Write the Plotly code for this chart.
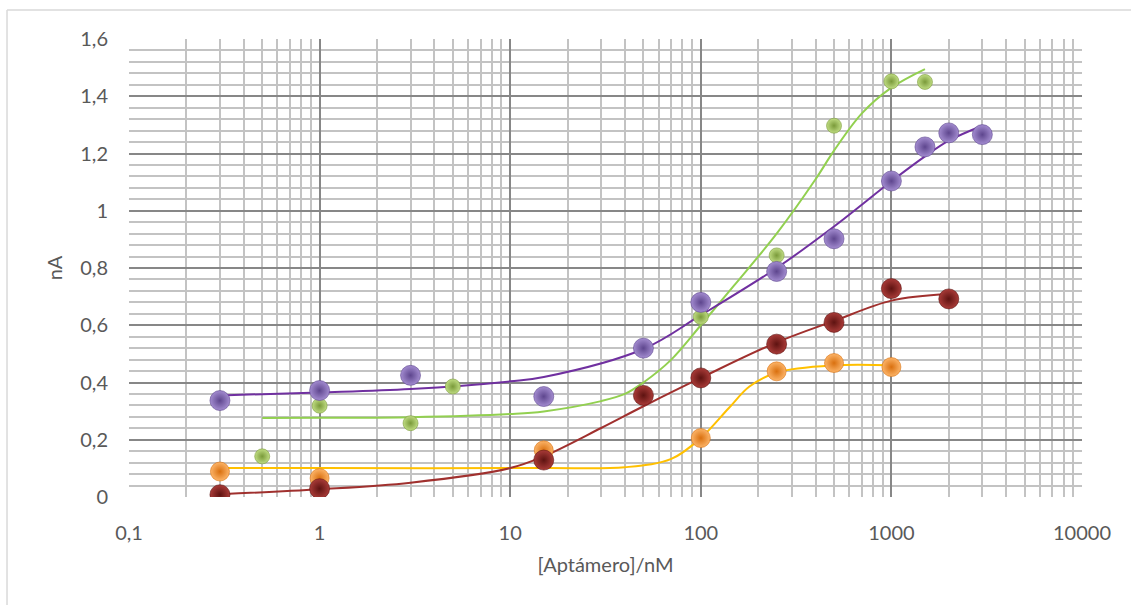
import plotly.graph_objects as go

# ---- measured data (markers) ----
purple_x = [0.3, 1, 3, 15, 50, 100, 250, 500, 1000, 1500, 2000, 3000]
purple_y = [0.337, 0.372, 0.425, 0.351, 0.520, 0.680, 0.788, 0.902, 1.104, 1.223, 1.272, 1.266]

green_x = [0.5, 1, 3, 5, 100, 250, 500, 1000, 1500]
green_y = [0.142, 0.319, 0.258, 0.386, 0.629, 0.844, 1.297, 1.452, 1.450]

red_x = [0.3, 1, 15, 50, 100, 250, 500, 1000, 2000]
red_y = [0.008, 0.029, 0.129, 0.355, 0.416, 0.534, 0.610, 0.728, 0.692]

orange_x = [0.3, 1, 15, 100, 250, 500, 1000]
orange_y = [0.089, 0.066, 0.163, 0.206, 0.439, 0.468, 0.454]

# ---- fitted curves ----
purple_fit_x = [0.3, 1, 3, 10, 15, 50, 100, 250, 500, 1000, 1500, 2000, 3000]
purple_fit_y = [0.355, 0.365, 0.377, 0.404, 0.419, 0.517, 0.635, 0.800, 0.945, 1.103, 1.190, 1.245, 1.297]

green_fit_x = [0.5, 1, 3, 10, 15, 30, 40, 50, 70, 100, 150, 250, 400, 500, 700, 1000, 1500]
green_fit_y = [0.276, 0.277, 0.279, 0.290, 0.299, 0.335, 0.360, 0.400, 0.480, 0.600, 0.740, 0.920, 1.110, 1.210, 1.340, 1.430, 1.495]

red_fit_x = [0.3, 1, 3, 10, 15, 30, 50, 100, 250, 500, 1000, 2000]
red_fit_y = [0.010, 0.027, 0.050, 0.101, 0.142, 0.241, 0.317, 0.416, 0.540, 0.615, 0.686, 0.709]

orange_fit_x = [0.3, 1, 15, 40, 70, 100, 140, 180, 250, 500, 1000]
orange_fit_y = [0.101, 0.101, 0.101, 0.104, 0.133, 0.206, 0.310, 0.386, 0.435, 0.460, 0.460]

x_tickvals = [0.1, 1, 10, 100, 1000, 10000]
x_ticktext = ["0,1", "1", "10", "100", "1000", "10000"]
y_tickvals = [0, 0.2, 0.4, 0.6, 0.8, 1.0, 1.2, 1.4, 1.6]
y_ticktext = ["0", "0,2", "0,4", "0,6", "0,8", "1", "1,2", "1,4", "1,6"]

fig = go.Figure()

lines = [
    (green_fit_x, green_fit_y, "#92D050"),
    (orange_fit_x, orange_fit_y, "#FFC000"),
    (red_fit_x, red_fit_y, "#A0302E"),
    (purple_fit_x, purple_fit_y, "#7030A0"),
]
for xs, ys, c in lines:
    fig.add_trace(go.Scatter(x=xs, y=ys, mode="lines",
                             line=dict(color=c, width=2, shape="spline", smoothing=1),
                             showlegend=False, hoverinfo="skip"))

markers = [
    (green_x, green_y, "#BFDC82", "#7A9A3A", 15),
    (orange_x, orange_y, "#FCB468", "#D9700F", 19),
    (red_x, red_y, "#A93B38", "#5E1311", 20),
    (purple_x, purple_y, "#A38CD0", "#5E468E", 20),
]
for xs, ys, c, g, s in markers:
    fig.add_trace(go.Scatter(x=xs, y=ys, mode="markers",
                             marker=dict(size=s, color=c,
                                         gradient=dict(type="radial", color=g),
                                         line=dict(width=0.6, color=g)),
                             showlegend=False))

font_family = "Lato, 'Open Sans', sans-serif"
grid_major = "#878787"
grid_minor = "#C3C3C3"

fig.update_layout(
    width=1131, height=605,
    margin=dict(l=129, r=49, t=39, b=108),
    paper_bgcolor="white", plot_bgcolor="white",
    font=dict(family=font_family, size=20, color="#595959"),
    xaxis=dict(
        type="log", range=[-1, 4],
        tickvals=x_tickvals, ticktext=x_ticktext,
        showgrid=True, gridcolor=grid_major, gridwidth=1.5,
        minor=dict(dtick="D1", showgrid=True, gridcolor=grid_minor, gridwidth=1.5),
        zeroline=False, showline=False,
        ticks="", ticklabelstandoff=22,
        title=dict(text="[Aptámero]/nM", font=dict(size=20, color="#595959"), standoff=14),
    ),
    yaxis=dict(
        range=[0, 1.6],
        tickvals=y_tickvals, ticktext=y_ticktext,
        showgrid=True, gridcolor=grid_major, gridwidth=1.5,
        minor=dict(dtick=0.04, tick0=0, showgrid=True, gridcolor=grid_minor, gridwidth=1.5),
        zeroline=False, showline=False,
        ticks="", ticklabelstandoff=20,
        title=dict(text="nA", font=dict(size=20, color="#595959"), standoff=12),
    ),
    shapes=[
        dict(type="line", xref="paper", yref="paper",
             x0=-0.128, x1=1.2, y0=1.0633, y1=1.0633,
             line=dict(color="#D9D9D9", width=1.5)),
        dict(type="line", xref="paper", yref="paper",
             x0=-0.128, x1=-0.128, y0=-0.4, y1=1.0633,
             line=dict(color="#D9D9D9", width=1.5)),
    ],
)

fig.write_html("out.html", config={"displayModeBar": False},
               post_script="document.body.style.margin='0';")
